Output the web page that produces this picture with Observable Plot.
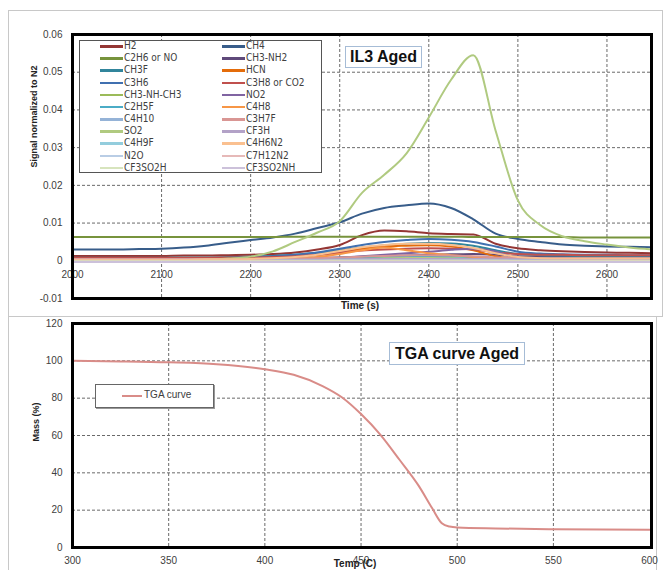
<!DOCTYPE html>
<html><head><meta charset="utf-8">
<script src="https://cdn.jsdelivr.net/npm/d3@7"></script>
<script src="https://cdn.jsdelivr.net/npm/@observablehq/plot@0.6"></script>
<style>
body{margin:0;background:#fff;font-family:"Liberation Sans",Arial,sans-serif;}
#wrap{position:relative;width:668px;height:570px;overflow:hidden;background:#fff;}
.abs{position:absolute;}
#topPanel{left:0;top:0;}
#botPanel{left:0;top:316px;}
#b1{left:8px;top:10px;width:653px;height:305px;border:1px solid #c8c8c8;}
#b2{left:8px;top:316px;width:647px;height:300px;border:1px solid #c8c8c8;}
#legend{left:79px;top:40px;width:241px;height:131px;border:1px solid #555;background:#fff;
  font-family:"DejaVu Sans Condensed","Liberation Sans Narrow",sans-serif;font-size:10px;color:#404040;}
.li{position:absolute;height:12px;line-height:12px;white-space:nowrap;}
.sw{position:absolute;top:5px;width:23px;height:2.5px;}
.lt{position:absolute;left:24px;top:0;}
.tbox{border:1px solid #a6bcd6;background:#fff;font-weight:bold;color:#111;text-align:center;white-space:nowrap;
  font-family:"Liberation Sans",Arial,sans-serif;}
#t1{left:345px;top:46px;width:75px;height:20px;line-height:20px;font-size:16px;}
#t2{left:389px;top:342px;width:134px;height:21px;line-height:21px;font-size:16px;}
#tl{left:95px;top:384px;width:117px;height:22px;border:1px solid #666;background:#fff;box-shadow:1px 1px 0 #999;
  font-size:10px;color:#404040;white-space:nowrap;}
</style></head>
<body>
<div id="wrap">
  <div id="b1" class="abs"></div>
  <div id="b2" class="abs"></div>
  <div id="topPanel" class="abs"></div>
  <div id="botPanel" class="abs"></div>
  <div id="legend" class="abs"></div>
  <div id="t1" class="abs tbox">IL3 Aged</div>
  <div id="t2" class="abs tbox">TGA curve Aged</div>
  <div id="tl" class="abs"><div class="abs" id="tlsw" style="left:26px;top:10px;width:20px;height:2px;"></div><div class="abs" style="left:48px;top:4px;">TGA curve</div></div>
</div>
<script>
// ---------- Top panel data ----------
const times = [2000,2025,2050,2075,2100,2125,2150,2175,2200,2225,2250,2275,2300,2325,2350,2375,2400,2425,2450,2475,2500,2525,2550,2575,2600,2625,2650];
const species = ["H2","CH4","C2H6 or NO","CH3-NH2","CH3F","HCN","C3H6","C3H8 or CO2","CH3-NH-CH3","NO2","C2H5F","C4H8","C4H10","C3H7F","SO2","CF3H","C4H9F","C4H6N2","N2O","C7H12N2","CF3SO2H","CF3SO2NH"];
const colors = ["#943634","#385D8A","#77933C","#5F497A","#31859C","#E46C0A","#4070B0","#C0504D","#9BBB59","#8064A2","#4BACC6","#F79646","#95B3D7","#D99694","#B0CA80","#B3A2C7","#93CDDD","#FAC090","#B9CDE5","#E6B9B8","#D7E4BD","#CCC1DA"];

const sH2       = [0.0013,0.0013,0.0013,0.0013,0.0013,0.0014,0.0014,0.0015,0.0016,0.0018,0.0022,0.0030,0.0042,0.0068,0.0080,0.0078,0.0073,0.0071,0.0070,0.0045,0.0033,0.0028,0.0025,0.0023,0.0022,0.0021,0.0020];
const sCH4      = [0.0030,0.0030,0.0030,0.0031,0.0032,0.0035,0.0040,0.0048,0.0055,0.0062,0.0072,0.0087,0.0102,0.0125,0.0140,0.0147,0.0152,0.0140,0.0110,0.0072,0.0058,0.0050,0.0043,0.0040,0.0038,0.0037,0.0036];
const sC2H6orNO = [0.0063,0.0063,0.0063,0.0063,0.0063,0.0063,0.0063,0.0063,0.0063,0.0063,0.0064,0.0064,0.0064,0.0064,0.0064,0.0064,0.0064,0.0064,0.0063,0.0063,0.0063,0.0063,0.0063,0.0062,0.0062,0.0062,0.0062];
const sCH3NH2   = [0.0005,0.0005,0.0005,0.0005,0.0005,0.0005,0.0005,0.0005,0.0006,0.0006,0.0007,0.0008,0.0009,0.0011,0.0013,0.0014,0.0016,0.0017,0.0018,0.0016,0.0012,0.0011,0.0011,0.0011,0.0011,0.0011,0.0011];
const sCH3F     = [0.0008,0.0008,0.0008,0.0008,0.0008,0.0009,0.0009,0.0010,0.0011,0.0013,0.0016,0.0021,0.0028,0.0035,0.0041,0.0045,0.0047,0.0046,0.0040,0.0028,0.0018,0.0015,0.0014,0.0013,0.0013,0.0013,0.0013];
const sHCN      = [0.0002,0.0002,0.0002,0.0002,0.0003,0.0003,0.0003,0.0004,0.0005,0.0007,0.0010,0.0015,0.0022,0.0032,0.0038,0.0040,0.0041,0.0038,0.0028,0.0012,0.0005,0.0004,0.0003,0.0003,0.0003,0.0003,0.0003];
const sC3H6     = [0.0006,0.0006,0.0006,0.0006,0.0006,0.0007,0.0007,0.0008,0.0010,0.0012,0.0016,0.0022,0.0032,0.0042,0.0050,0.0055,0.0058,0.0056,0.0050,0.0038,0.0024,0.0019,0.0017,0.0016,0.0016,0.0015,0.0015];
const sC3H8orCO2= [0.0008,0.0008,0.0008,0.0008,0.0008,0.0008,0.0008,0.0009,0.0009,0.0010,0.0012,0.0016,0.0022,0.0027,0.0030,0.0032,0.0033,0.0032,0.0030,0.0022,0.0018,0.0016,0.0016,0.0015,0.0015,0.0015,0.0015];
const sCH3NHCH3 = [0.0002,0.0002,0.0002,0.0002,0.0002,0.0002,0.0002,0.0002,0.0002,0.0003,0.0003,0.0004,0.0005,0.0006,0.0007,0.0007,0.0007,0.0007,0.0006,0.0004,0.0003,0.0003,0.0003,0.0003,0.0003,0.0003,0.0003];
const sNO2      = [0.0003,0.0003,0.0003,0.0003,0.0003,0.0003,0.0003,0.0003,0.0003,0.0004,0.0004,0.0005,0.0008,0.0012,0.0016,0.0020,0.0024,0.0029,0.0032,0.0025,0.0008,0.0006,0.0006,0.0006,0.0006,0.0006,0.0006];
const sC2H5F    = [0.0003,0.0003,0.0003,0.0003,0.0003,0.0003,0.0003,0.0003,0.0004,0.0004,0.0005,0.0006,0.0008,0.0010,0.0012,0.0013,0.0013,0.0012,0.0010,0.0007,0.0005,0.0004,0.0004,0.0004,0.0004,0.0004,0.0004];
const sC4H8     = [0.0001,0.0001,0.0001,0.0001,0.0001,0.0001,0.0002,0.0002,0.0003,0.0004,0.0006,0.0010,0.0018,0.0028,0.0035,0.0028,0.0020,0.0015,0.0010,0.0005,0.0003,0.0002,0.0002,0.0002,0.0002,0.0002,0.0002];
const sC4H10    = [0.0002,0.0002,0.0002,0.0002,0.0002,0.0002,0.0002,0.0002,0.0002,0.0002,0.0002,0.0003,0.0003,0.0004,0.0004,0.0004,0.0004,0.0004,0.0004,0.0003,0.0003,0.0002,0.0002,0.0002,0.0002,0.0002,0.0002];
const sC3H7F    = [0.0005,0.0005,0.0005,0.0005,0.0005,0.0005,0.0005,0.0005,0.0005,0.0006,0.0006,0.0007,0.0009,0.0011,0.0013,0.0014,0.0015,0.0014,0.0012,0.0009,0.0007,0.0006,0.0006,0.0006,0.0006,0.0006,0.0006];
const sSO2      = [0.0000,0.0000,0.0000,0.0001,0.0001,0.0002,0.0003,0.0006,0.0011,0.0025,0.0050,0.0075,0.0105,0.0180,0.0228,0.0285,0.0380,0.0480,0.0545,0.0345,0.0160,0.0095,0.0065,0.0052,0.0043,0.0035,0.0030];
const sCF3H     = [0.0003,0.0003,0.0003,0.0003,0.0003,0.0003,0.0003,0.0003,0.0003,0.0003,0.0003,0.0003,0.0004,0.0004,0.0005,0.0005,0.0005,0.0005,0.0005,0.0004,0.0004,0.0003,0.0003,0.0003,0.0003,0.0003,0.0003];
const sC4H9F    = [0.0001,0.0001,0.0001,0.0001,0.0001,0.0001,0.0001,0.0001,0.0001,0.0001,0.0001,0.0001,0.0002,0.0002,0.0002,0.0002,0.0002,0.0002,0.0002,0.0002,0.0001,0.0001,0.0001,0.0001,0.0001,0.0001,0.0001];
const sC4H6N2   = [0.0003,0.0003,0.0003,0.0003,0.0003,0.0003,0.0004,0.0004,0.0005,0.0007,0.0010,0.0016,0.0026,0.0036,0.0042,0.0045,0.0045,0.0042,0.0034,0.0020,0.0010,0.0007,0.0006,0.0006,0.0006,0.0006,0.0006];
const sN2O      = [-0.0002,-0.0002,-0.0002,-0.0002,-0.0002,-0.0002,-0.0002,-0.0002,-0.0002,-0.0002,-0.0002,-0.0002,-0.0002,-0.0001,-0.0001,-0.0001,-0.0001,-0.0001,-0.0001,-0.0002,-0.0002,-0.0002,-0.0002,-0.0002,-0.0002,-0.0002,-0.0002];
const sC7H12N2  = [0.0000,0.0000,0.0000,0.0000,0.0000,0.0000,0.0000,0.0000,0.0000,0.0000,0.0000,0.0000,0.0001,0.0001,0.0001,0.0001,0.0001,0.0001,0.0001,0.0001,0.0000,0.0000,0.0000,0.0000,0.0000,0.0000,0.0000];
const sCF3SO2H  = [-0.0001,-0.0001,-0.0001,-0.0001,-0.0001,-0.0001,-0.0001,-0.0001,-0.0001,-0.0001,-0.0001,-0.0001,-0.0001,-0.0001,-0.0001,-0.0001,-0.0001,-0.0001,-0.0001,-0.0001,-0.0001,-0.0001,-0.0001,-0.0001,-0.0001,-0.0001,-0.0001];
const sCF3SO2NH = [-0.0003,-0.0003,-0.0003,-0.0003,-0.0003,-0.0003,-0.0003,-0.0003,-0.0003,-0.0003,-0.0003,-0.0003,-0.0003,-0.0003,-0.0003,-0.0003,-0.0003,-0.0003,-0.0003,-0.0003,-0.0003,-0.0003,-0.0003,-0.0003,-0.0003,-0.0003,-0.0003];
const seriesList = [sH2,sCH4,sC2H6orNO,sCH3NH2,sCH3F,sHCN,sC3H6,sC3H8orCO2,sCH3NHCH3,sNO2,sC2H5F,sC4H8,sC4H10,sC3H7F,sSO2,sCF3H,sC4H9F,sC4H6N2,sN2O,sC7H12N2,sCF3SO2H,sCF3SO2NH];
const timeTicks = [2000,2100,2200,2300,2400,2500,2600];
const signalTicks = [-0.01,0,0.01,0.02,0.03,0.04,0.05,0.06];
const xAxisCrossing = 0;

// ---------- Bottom panel data ----------
const tgaTemp = [300,325,350,375,400,415,430,440,450,460,470,480,487,492,496,500,520,550,575,600];
const tgaMass = [100,99.7,99.2,98.2,95.5,92.5,86.5,80.5,71.5,60.5,47,33,21,13,11.2,10.7,10.2,9.8,9.6,9.5];
const tempTicks = [300,350,400,450,500,550,600];
const massTicks = [0,20,40,60,80,100,120];
const tgaColor = "#D98C88";

const rows = [];
species.forEach((s, i) => times.forEach((t, j) => rows.push({species: s, time: t, value: seriesList[i][j]})));
const tga = tgaTemp.map((t, i) => ({temp: t, mass: tgaMass[i]}));

const gridStyle = {stroke: "#6a6a6a", strokeOpacity: 1, strokeWidth: 1, strokeDasharray: "3,2"};
const fontStyle = {fontFamily: "Liberation Sans, Arial, sans-serif", fontSize: "10px", color: "#404040", background: "transparent", overflow: "visible"};

const topChart = Plot.plot({
  width: 668, height: 316,
  marginLeft: 72, marginRight: 17, marginTop: 34, marginBottom: 18,
  style: fontStyle,
  x: {domain: [2000, 2650], axis: null},
  y: {domain: [-0.01, 0.06]},
  color: {domain: species, range: colors},
  marks: [
    Plot.gridX(timeTicks.slice(1), gridStyle),
    Plot.gridY(signalTicks, gridStyle),
    Plot.lineY(rows, {x: "time", y: "value", z: "species", stroke: "species", strokeWidth: 2, curve: "monotone-x"}),
    Plot.axisY(signalTicks, {tickSize: 0, tickPadding: 10, tickFormat: d => String(d), label: null, fill: "#404040"}),
    Plot.text(timeTicks, {x: d => d, y: () => xAxisCrossing, dy: 14, text: d => String(d), fill: "#404040"}),
    Plot.frame({stroke: "black", strokeWidth: 3}),
    Plot.text(["Signal normalized to N2"], {frameAnchor: "left", rotate: -90, dx: -38, dy: 1, fontWeight: "bold", fontSize: 9, fill: "#222"}),
    Plot.text(["Time (s)"], {frameAnchor: "bottom", dy: 10, dx: -2, fontWeight: "bold", fontSize: 10, fill: "#222"})
  ]
});
document.getElementById("topPanel").appendChild(topChart);

const botChart = Plot.plot({
  width: 668, height: 254,
  marginLeft: 72, marginRight: 17, marginTop: 7, marginBottom: 23,
  style: fontStyle,
  x: {domain: [300, 601]},
  y: {domain: [0, 120]},
  marks: [
    Plot.gridX(tempTicks.slice(1, -1), gridStyle),
    Plot.gridY(massTicks.slice(1, -1), gridStyle),
    Plot.line(tga, {x: "temp", y: "mass", stroke: tgaColor, strokeWidth: 2, curve: "monotone-x"}),
    Plot.axisY(massTicks, {tickSize: 0, tickPadding: 10, label: null, fill: "#404040"}),
    Plot.axisX(tempTicks, {tickSize: 0, tickPadding: 9, label: null, fill: "#404040"}),
    Plot.frame({stroke: "black", strokeWidth: 3}),
    Plot.text(["Mass (%)"], {frameAnchor: "left", rotate: -90, dx: -36, dy: 6, fontWeight: "bold", fontSize: 9, fill: "#222"}),
    Plot.text(["Temp (C)"], {frameAnchor: "bottom", dy: 19, dx: -7, fontWeight: "bold", fontSize: 10, fill: "#222"})
  ]
});
document.getElementById("botPanel").appendChild(botChart);

// ---------- HTML legends ----------
const legend = document.getElementById("legend");
species.forEach((s, i) => {
  const r = Math.floor(i / 2), c = i % 2;
  const d = document.createElement("div");
  d.className = "li";
  d.style.left = (c === 0 ? 20 : 142) + "px";
  d.style.top = (-1 + r * 12.17) + "px";
  d.innerHTML = `<div class="sw" style="background:${colors[i]}"></div><div class="lt">${s}</div>`;
  legend.appendChild(d);
});
document.getElementById("tlsw").style.background = tgaColor;
</script>
</body></html>
